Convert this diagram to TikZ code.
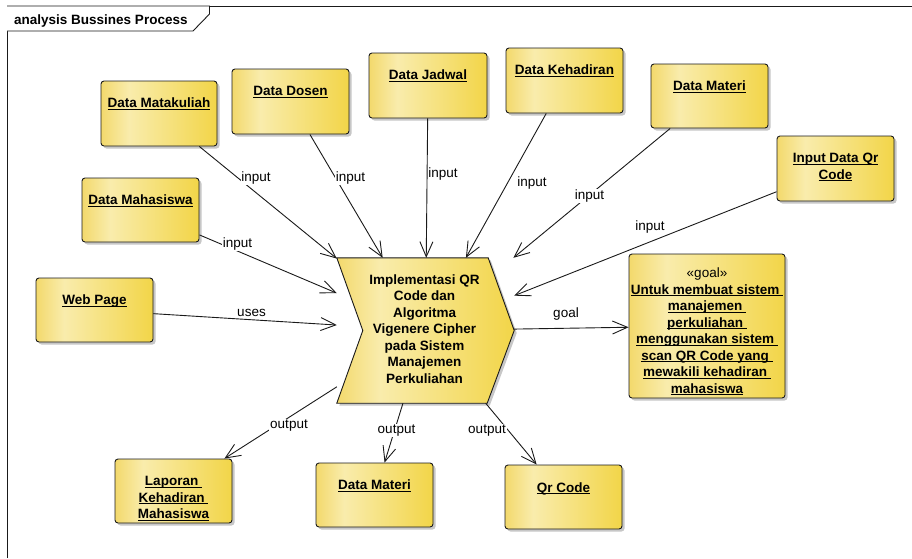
\documentclass[tikz,border=0pt]{standalone}
\usepackage{fontspec}
\setmainfont{Liberation Sans}
\usetikzlibrary{arrows.meta,shadows}

\definecolor{eaA}{HTML}{F3D96C}
\definecolor{eaB}{HTML}{F9ECAC}
\definecolor{eaC}{HTML}{F2D548}
\definecolor{ealine}{HTML}{1A1A1A}
\pgfdeclarehorizontalshading{eayellow}{100bp}{color(0bp)=(eaA); color(25bp)=(eaA); color(37bp)=(eaB); color(75bp)=(eaC); color(100bp)=(eaC)}

\newsavebox\eabx
\newcommand\eaul[1]{\sbox\eabx{#1}\rlap{\rule[-2.2pt]{\wd\eabx}{1pt}}\usebox\eabx}
\newcommand\eastrut{\rule{0pt}{10pt}}

\tikzset{
  eabox/.style={draw=ealine, line width=0.9pt, rounded corners=3pt, shading=eayellow, inner sep=0pt,
    drop shadow={shadow xshift=2.5pt, shadow yshift=-2.5pt, fill=black!40, opacity=0.55}},
  eatext/.style={font=\fontsize{13.5}{16.5}\selectfont\bfseries, align=center, anchor=north, inner sep=0pt},
  ealabel/.style={font=\fontsize{13.5}{16.5}\selectfont, fill=white, inner sep=0.8pt},
  eaarrow/.style={draw=ealine, line width=0.9pt, -{Straight Barb[length=15pt,width=13pt,line width=0.9pt]}},
}

\begin{document}
\begin{tikzpicture}[x=1pt,y=-1pt]
\useasboundingbox (0,0) rectangle (912,558);
\fill[white] (0,0) rectangle (912,558);

% frame
\draw[ealine, line width=0.9pt] (7,558) -- (7,6) -- (912,6);
\draw[ealine, line width=0.9pt, fill=white] (7,6) -- (209.5,6) -- (209.5,14) -- (193,31) -- (7,31);
\node[anchor=base west, inner sep=0pt, font=\fontsize{13.5}{16.5}\selectfont\bfseries] (hd) at (14,24.5) {analysis Bussines Process};

% boxes
\node[eabox, minimum width=116pt, minimum height=65pt] (mk) at (159,113.5) {};
\node[eabox, minimum width=117pt, minimum height=65pt] (ds) at (290.5,101.5) {};
\node[eabox, minimum width=118pt, minimum height=65pt] (jd) at (428,85.5) {};
\node[eabox, minimum width=117pt, minimum height=65pt] (kh) at (564.5,80.5) {};
\node[eabox, minimum width=117pt, minimum height=64pt] (mt) at (709.5,96) {};
\node[eabox, minimum width=117pt, minimum height=65pt] (iq) at (835.5,168.5) {};
\node[eabox, minimum width=117pt, minimum height=64pt] (mh) at (140.5,210) {};
\node[eabox, minimum width=117pt, minimum height=64pt] (wp) at (94.5,310) {};
\node[eabox, minimum width=156pt, minimum height=144pt] (gl) at (707,326) {};
\node[eabox, minimum width=117pt, minimum height=64pt] (lp) at (173.5,491) {};
\node[eabox, minimum width=117pt, minimum height=64pt] (dm) at (374.5,495) {};
\node[eabox, minimum width=117pt, minimum height=64pt] (qr) at (563.5,497) {};

% central process (chevron)
\node[minimum width=177pt, minimum height=145pt, inner sep=0pt] (ch) at (425.5,330.5) {};
\fill[black!40, opacity=0.55, transform canvas={shift={(2.5pt,-2.5pt)}}]
  (ch.north west) -- ([xshift=-26pt]ch.north east) -- (ch.east) -- ([xshift=-27pt]ch.south east)
  -- (ch.south west) -- ([xshift=26pt]ch.west) -- cycle;
\path[shading=eayellow, draw=ealine, line width=0.9pt]
  (ch.north west) -- ([xshift=-26pt]ch.north east) -- (ch.east) -- ([xshift=-27pt]ch.south east)
  -- (ch.south west) -- ([xshift=26pt]ch.west) -- cycle;

% texts
\node[eatext] (tmk) at (159,97.5) {\eastrut\eaul{Data Matakuliah}};
\node[eatext] (tds) at (290.5,85.5) {\eastrut\eaul{Data Dosen}};
\node[eatext] (tjd) at (428,69.5) {\eastrut\eaul{Data Jadwal}};
\node[eatext] (tkh) at (564.5,64.5) {\eastrut\eaul{Data Kehadiran}};
\node[eatext] (tmt) at (709.5,80.5) {\eastrut\eaul{Data Materi}};
\node[eatext] (tiq) at (835.5,152.5) {\eastrut\eaul{Input Data Qr}\\\eaul{Code}};
\node[eatext] (tmh) at (140.5,194.5) {\eastrut\eaul{Data Mahasiswa}};
\node[eatext] (twp) at (94.5,294.5) {\eastrut\eaul{Web Page}};
\node[eatext] (tlp) at (173.5,475.5) {\eastrut\eaul{Laporan\ }\\\eaul{Kehadiran\ }\\\eaul{Mahasiswa}};
\node[eatext] (tdm) at (374.5,479.5) {\eastrut\eaul{Data Materi}};
\node[eatext] (tqr) at (563.5,482) {\eastrut\eaul{Qr Code}};
\node[eatext] (tgl) at (707,267.5) {\eastrut{\mdseries «goal»}\\\eaul{Untuk membuat sistem\ }\\\eaul{manajemen\ }\\\eaul{perkuliahan\ }\\\eaul{menggunakan sistem\ }\\\eaul{scan QR Code yang\ }\\\eaul{mewakili kehadiran\ }\\\eaul{mahasiswa}};
\node[eatext] (tch) at (424.5,274) {\eastrut Implementasi QR\\Code dan\\Algoritma\\Vigenere Cipher\\pada Sistem\\Manajemen\\Perkuliahan};

% connectors
\draw[eaarrow] (mk) -- (ch);
\draw[eaarrow] (ds) -- (ch);
\draw[eaarrow] (jd) -- (ch);
\draw[eaarrow] (kh) -- (ch);
\draw[eaarrow] (mt) -- (ch);
\draw[eaarrow] (iq) -- (ch);
\draw[eaarrow] (mh) -- (ch);
\draw[eaarrow] (wp) -- (ch);
\draw[eaarrow] (ch) -- (gl);
\draw[eaarrow] (ch) -- (lp);
\draw[eaarrow] (ch) -- (dm);
\draw[eaarrow] (ch) -- (qr);

% connector labels
\node[ealabel] (l1) at (256,178) {input};
\node[ealabel] (l2) at (350.5,178) {input};
\node[ealabel] (l3) at (443,174) {input};
\node[ealabel] (l4) at (532,183) {input};
\node[ealabel] (l5) at (589.5,196) {input};
\node[ealabel] (l6) at (650,226.7) {input};
\node[ealabel] (l7) at (237.5,244) {input};
\node[ealabel] (l8) at (251.5,312.7) {uses};
\node[ealabel] (l9) at (566,314) {goal};
\node[ealabel] (l10) at (289,425.7) {output};
\node[ealabel] (l11) at (396.5,430.7) {output};
\node[ealabel] (l12) at (487,430.7) {output};
\end{tikzpicture}
\end{document}
